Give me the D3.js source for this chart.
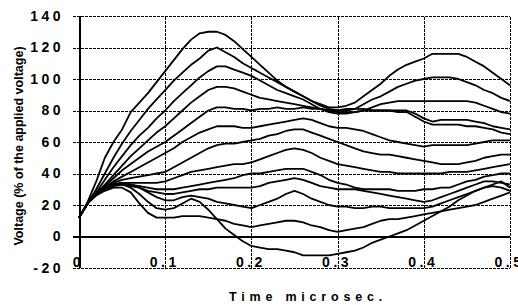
<!DOCTYPE html>
<html>
<head>
<meta charset="utf-8">
<script src="https://cdn.jsdelivr.net/npm/d3@7"></script>
<style>
  body { margin: 0; background: #fff; }
  svg { display: block; font-family: "Liberation Sans", Arial, sans-serif; }
</style>
</head>
<body>
<div id="chart"></div>
<script>
// time samples (microsec)
const times = [0, 0.01, 0.02, 0.03, 0.04, 0.05, 0.06, 0.07, 0.08, 0.09,
  0.1, 0.11, 0.12, 0.13, 0.14, 0.15, 0.16, 0.17, 0.18, 0.19,
  0.2, 0.21, 0.22, 0.23, 0.24, 0.25, 0.26, 0.27, 0.28, 0.29,
  0.3, 0.31, 0.32, 0.33, 0.34, 0.35, 0.36, 0.37, 0.38, 0.39,
  0.4, 0.41, 0.42, 0.43, 0.44, 0.45, 0.46, 0.47, 0.48, 0.49, 0.5];

// voltage (% of applied) for each curve, top to bottom
const curveA = [12, 22, 35, 50, 60, 68, 79, 85, 91, 98, 105, 112, 119, 125, 129, 130, 130, 128, 124, 119,
  114, 109, 104, 99, 95, 92, 89, 86, 84, 82, 82, 83, 85, 89, 93, 97, 102, 106, 109, 111,
  113, 116, 116, 116, 116, 114, 111, 108, 104, 100, 96];
const curveB = [12, 21, 30, 40, 50, 59, 67, 74, 81, 87, 93, 99, 104, 109, 113, 118, 120, 117, 114, 110,
  107, 104, 101, 98, 95, 92, 89, 86, 83, 81, 80, 80, 81, 84, 87, 89, 92, 95, 97, 99,
  100, 101, 101, 101, 100, 98, 96, 93, 91, 88, 86];
const curveC = [12, 21, 28, 36, 44, 51, 58, 64, 69, 75, 80, 86, 91, 96, 101, 105, 108, 108, 106, 104,
  102, 99, 96, 93, 91, 89, 87, 84, 81, 79, 78, 78, 79, 80, 82, 84, 85, 86, 86, 86,
  86, 86, 86, 86, 86, 86, 85, 83, 81, 79, 78];
const curveD = [12, 21, 27, 33, 39, 45, 51, 56, 61, 66, 70, 75, 80, 85, 89, 93, 95, 95, 94, 92,
  90, 88, 87, 86, 85, 84, 83, 82, 81, 80, 79, 79, 79, 80, 80, 80, 80, 80, 80, 78,
  75, 73, 74, 74, 74, 74, 73, 72, 70, 69, 68];
const curveE = [12, 21, 27, 32, 37, 42, 46, 50, 54, 57, 60, 64, 68, 72, 76, 80, 82, 82, 81, 81,
  80, 81, 81, 82, 81, 81, 82, 81, 81, 80, 80, 81, 81, 81, 80, 80, 80, 79, 79, 76,
  73, 71, 71, 71, 71, 70, 70, 69, 68, 66, 65];
const curveF = [12, 21, 27, 31, 35, 38, 41, 44, 47, 50, 53, 56, 60, 63, 66, 68, 70, 70, 70, 69,
  69, 70, 71, 72, 73, 74, 75, 74, 72, 70, 69, 69, 68, 67, 65, 63, 61, 60, 59, 58,
  57, 58, 58, 58, 58, 58, 59, 60, 61, 61, 61];
const curveG = [12, 21, 27, 31, 34, 36, 37, 38, 39, 40, 41, 44, 47, 50, 53, 56, 58, 59, 59, 60,
  61, 62, 64, 65, 67, 68, 68, 66, 64, 62, 60, 58, 56, 54, 53, 52, 52, 51, 50, 49,
  48, 47, 46, 46, 46, 47, 48, 50, 51, 52, 52];
const curveH = [12, 21, 27, 31, 33, 34, 34, 34, 34, 34, 35, 37, 39, 41, 42, 43, 44, 45, 46, 46,
  47, 49, 51, 53, 55, 56, 55, 53, 50, 48, 46, 45, 44, 43, 42, 41, 41, 40, 40, 40,
  40, 40, 40, 41, 41, 41, 42, 43, 44, 45, 46];
const curveI = [12, 21, 27, 31, 33, 34, 33, 32, 31, 30, 30, 30, 31, 32, 33, 34, 35, 36, 37, 39,
  40, 40, 41, 42, 43, 43, 43, 41, 39, 36, 34, 33, 31, 30, 30, 30, 30, 29, 29, 29,
  30, 30, 31, 31, 33, 35, 36, 38, 39, 40, 40];
const curveJ = [12, 21, 27, 30, 32, 33, 32, 31, 29, 28, 27, 27, 28, 29, 30, 30, 31, 31, 31, 31,
  31, 32, 34, 35, 36, 37, 36, 34, 32, 31, 30, 30, 30, 29, 28, 27, 26, 25, 24, 23,
  22, 23, 25, 27, 29, 31, 33, 35, 35, 34, 33];
const curveK = [12, 21, 27, 31, 33, 34, 33, 31, 28, 25, 23, 23, 25, 26, 25, 24, 22, 21, 20, 19,
  18, 20, 22, 24, 27, 29, 27, 24, 22, 20, 19, 19, 18, 18, 19, 19, 18, 18, 18, 18,
  18, 19, 21, 23, 25, 27, 29, 31, 33, 35, 31];
const curveL = [12, 21, 27, 31, 33, 33, 31, 27, 22, 18, 17, 18, 21, 24, 22, 17, 11, 5, 1, -3,
  -6, -7, -8, -8, -9, -10, -12, -12, -12, -12, -11, -10, -9, -7, -4, -2, 0, 2, 4, 7,
  10, 13, 16, 19, 23, 26, 29, 31, 32, 31, 29];
const curveM = [12, 21, 26, 29, 31, 31, 28, 21, 15, 12, 12, 12, 13, 13, 13, 12, 11, 10, 8, 7,
  6, 7, 8, 9, 10, 10, 9, 7, 6, 4, 3, 4, 5, 6, 8, 10, 11, 11, 12, 13,
  14, 15, 16, 17, 18, 19, 20, 22, 24, 26, 28];

const curves = [curveA, curveB, curveC, curveD, curveE, curveF, curveG,
  curveH, curveI, curveJ, curveK, curveL, curveM];

const yTicks = [-20, 0, 20, 40, 60, 80, 100, 120, 140];
const xTicks = [0, 0.1, 0.2, 0.3, 0.4, 0.5];

let width = 518;
let height = 305;

let svg = d3.select("#chart").append("svg")
  .attr("width", width)
  .attr("height", height);

let plot = { left: 79, right: 510, top: 16, bottom: 268 };

let x = d3.scaleLinear().domain([0, 0.5]).range([plot.left, plot.right]);
let y = d3.scaleLinear().domain([-20, 140]).range([plot.bottom, plot.top]);

// y axis: gridlines reach out a little to the left of the plot
let yAxis = d3.axisLeft(y)
  .tickValues(yTicks)
  .tickSize(-(plot.right - plot.left + 6))
  .tickPadding(5)
  .tickFormat(d => String(d));

let yAxisGroup = svg.append("g")
  .attr("transform", `translate(${plot.left - 6},0)`)
  .call(yAxis);
yAxisGroup.select(".domain").remove();
yAxisGroup.selectAll(".tick line")
  .attr("stroke", "#000")
  .attr("stroke-width", d => (d === 0 ? 2 : 1))
  .attr("shape-rendering", "crispEdges")
  .attr("stroke-dasharray", d => (d === 0 ? null : "3,1"));
yAxisGroup.selectAll(".tick text")
  .attr("fill", "#000")
  .style("font-size", "14px")
  .style("font-weight", "bold")
  .style("letter-spacing", "3.5px")
  .attr("x", -9);

// x axis: gridlines go up, labels sit inside the plot above -20
let xAxis = d3.axisBottom(x)
  .tickValues(xTicks)
  .tickSize(-(plot.bottom - plot.top))
  .tickFormat(d => String(d));

let xAxisGroup = svg.append("g")
  .attr("transform", `translate(0,${plot.bottom})`)
  .call(xAxis);
xAxisGroup.select(".domain").remove();
xAxisGroup.selectAll(".tick line")
  .attr("stroke", "#000")
  .attr("stroke-width", d => (d === 0 ? 2 : 1))
  .attr("shape-rendering", "crispEdges")
  .attr("stroke-dasharray", d => (d === 0 ? null : "3,1"));
xAxisGroup.selectAll(".tick text")
  .attr("fill", "#000")
  .attr("y", -1)
  .attr("dy", 0)
  .attr("dx", -1)
  .style("font-size", "14px")
  .style("font-weight", "bold")
  .style("letter-spacing", "3.5px");

// curves
let line = d3.line()
  .x((d, i) => x(times[i]))
  .y(d => y(d));

svg.append("g")
  .selectAll("path")
  .data(curves)
  .enter()
  .append("path")
  .attr("d", line)
  .attr("fill", "none")
  .attr("stroke", "#000")
  .attr("stroke-width", 1.8)
  .attr("stroke-linejoin", "round");

// axis titles
svg.append("text")
  .attr("x", 308)
  .attr("y", 301)
  .attr("text-anchor", "middle")
  .style("font-size", "12.5px")
  .style("font-weight", "bold")
  .style("letter-spacing", "4.8px")
  .text("Time microsec.");

svg.append("text")
  .attr("transform", `translate(23,146) rotate(-90)`)
  .attr("text-anchor", "middle")
  .style("font-size", "12.5px")
  .style("font-weight", "bold")
  .text("Voltage (% of the applied voltage)");
</script>
</body>
</html>
